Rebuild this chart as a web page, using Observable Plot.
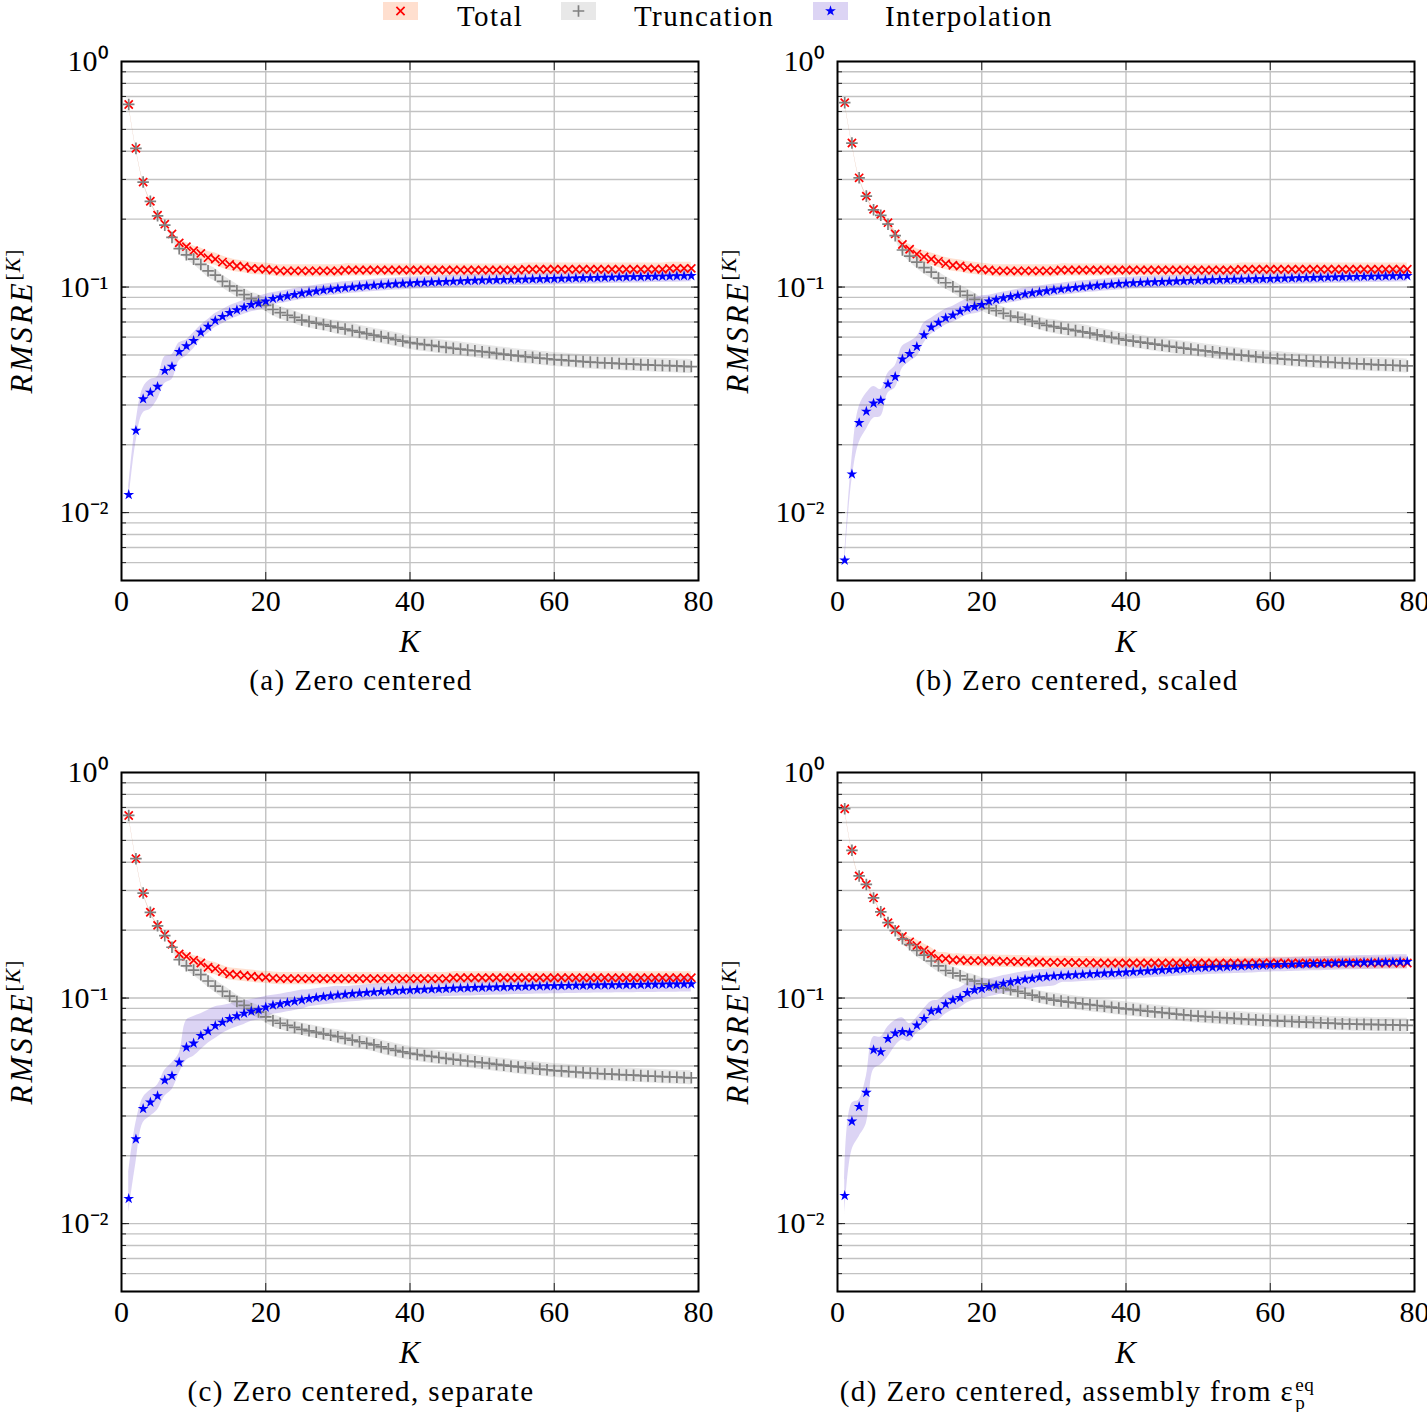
<!DOCTYPE html>
<html><head><meta charset="utf-8">
<script src="https://cdn.jsdelivr.net/npm/d3@7"></script>
<script src="https://cdn.jsdelivr.net/npm/@observablehq/plot@0.6"></script>
<style>
body{margin:0;background:#fff;overflow:hidden}
#root{position:relative;width:1427px;height:1412px;overflow:hidden;font-family:"Liberation Serif",serif;color:#000;background:#fff}
.t{position:absolute;white-space:nowrap;font-size:29px;letter-spacing:1.4px;line-height:29px}
.c{transform:translate(-50%,-50%)}
.ylab{position:absolute;white-space:nowrap;font-size:31px;letter-spacing:3px;font-style:italic;line-height:1;transform:translate(-50%,-50%) rotate(-90deg)}
.ylab sup{font-size:0.7em;font-style:normal;letter-spacing:1px}
.xlab{position:absolute;font-size:31px;font-style:italic;line-height:1;transform:translate(-50%,-50%)}
.stk{display:inline-block;vertical-align:-0.42em;font-size:0.66em;line-height:0.95;letter-spacing:0.5px;text-align:left;margin-left:1px}
.stk span{display:block}
</style></head><body><div id="root"></div>
<script>
const K = [1,2,3,4,5,6,7,8,9,10,11,12,13,14,15,16,17,18,19,20,21,22,23,24,25,26,27,28,29,30,31,32,33,34,35,36,37,38,39,40,41,42,43,44,45,46,47,48,49,50,51,52,53,54,55,56,57,58,59,60,61,62,63,64,65,66,67,68,69,70,71,72,73,74,75,76,77,78,79];
const xTicks = [0,20,40,60,80];
const xGrid = [20,40,60];
const yMajor = [1,0.1,0.01];
const yMajorLabels = ["10⁰","10⁻¹","10⁻²"];
const yGrid = [0.005,0.006,0.007,0.008,0.009,0.01,0.02,0.03,0.04,0.05,0.06,0.07,0.08,0.09,0.1,0.2,0.3,0.4,0.5,0.6,0.7,0.8,0.9,1];
const seriesNames = ["Total","Truncation","Interpolation"];
const captions = ["(a) Zero centered","(b) Zero centered, scaled","(c) Zero centered, separate","(d) Zero centered, assembly from ε"];

// ---- panel (a) ----
const totalA = [0.645,0.412,0.292,0.240,0.208,0.190,0.172,0.157,0.151,0.145,
0.141,0.135,0.133,0.129,0.126,0.124,0.123,0.121,0.1205,0.120,
0.119,0.118,0.118,0.118,0.118,0.118,0.118,0.118,0.118,0.118,
0.119,0.119,0.119,0.119,0.119,0.119,0.119,0.119,0.119,0.119,
0.119,0.119,0.119,0.119,0.119,0.119,0.119,0.119,0.119,0.119,
0.119,0.119,0.119,0.119,0.119,0.120,0.120,0.120,0.120,0.120,
0.120,0.120,0.120,0.120,0.120,0.120,0.120,0.120,0.120,0.120,
0.120,0.120,0.120,0.120,0.120,0.121,0.121,0.121,0.121];
const truncA = [0.645,0.412,0.292,0.240,0.207,0.188,0.166,0.148,0.139,0.133,
0.126,0.118,0.113,0.106,0.101,0.0964,0.0925,0.0888,0.0870,0.0830,
0.0795,0.0770,0.0750,0.0734,0.0714,0.0703,0.0692,0.0682,0.0671,0.0661,
0.0651,0.0641,0.0631,0.0621,0.0612,0.0603,0.0594,0.0585,0.0576,0.0567,
0.0561,0.0556,0.0551,0.0545,0.0540,0.0535,0.0531,0.0526,0.0522,0.0517,
0.0513,0.0508,0.0504,0.0499,0.0495,0.0491,0.0488,0.0484,0.0481,0.0477,
0.0475,0.0472,0.0470,0.0467,0.0465,0.0463,0.0461,0.0460,0.0458,0.0456,
0.0455,0.0453,0.0452,0.0450,0.0449,0.0448,0.0447,0.0445,0.0444];
const interpA = [0.0120,0.0231,0.0319,0.0341,0.0362,0.0426,0.0444,0.0516,0.0548,0.0578,
0.0630,0.0668,0.0710,0.0739,0.0769,0.0791,0.0813,0.0835,0.0847,0.0865,
0.0888,0.0900,0.0912,0.0925,0.0938,0.0948,0.0958,0.0968,0.0976,0.0984,
0.0991,0.0998,0.1005,0.1011,0.1017,0.1022,0.1027,0.1032,0.1036,0.1040,
0.1044,0.1047,0.1050,0.1053,0.1056,0.1059,0.1062,0.1065,0.1068,0.1071,
0.1073,0.1075,0.1076,0.1078,0.1080,0.1081,0.1083,0.1085,0.1086,0.1088,
0.1090,0.1092,0.1094,0.1096,0.1098,0.1099,0.1101,0.1103,0.1105,0.1107,
0.1109,0.1110,0.1112,0.1114,0.1115,0.1117,0.1119,0.1120,0.1122];
// band half-widths in decades (log10)
const interpUpA = [0.035,0.035,0.049,0.057,0.044,0.062,0.053,0.040,0.027,0.035,
0.031,0.031,0.031,0.031,0.031,0.031,0.031,0.031,0.031,0.031,
0.027,0.027,0.027,0.027,0.027,0.027,0.027,0.027,0.027,0.027,
0.027,0.027,0.027,0.027,0.027,0.027,0.027,0.027,0.027,0.027,
0.027,0.027,0.027,0.027,0.027,0.027,0.027,0.027,0.027,0.027,
0.027,0.027,0.027,0.027,0.027,0.027,0.027,0.027,0.027,0.027,
0.027,0.027,0.027,0.027,0.027,0.027,0.027,0.027,0.027,0.027,
0.027,0.027,0.027,0.027,0.027,0.027,0.027,0.027,0.027];
const interpDnA = [0.035,0.053,0.062,0.075,0.057,0.057,0.057,0.040,0.044,0.035,
0.031,0.031,0.031,0.031,0.031,0.031,0.031,0.031,0.031,0.031,
0.027,0.027,0.027,0.027,0.027,0.027,0.027,0.027,0.027,0.027,
0.027,0.027,0.027,0.027,0.027,0.027,0.027,0.027,0.027,0.027,
0.027,0.027,0.027,0.027,0.027,0.027,0.027,0.027,0.027,0.027,
0.027,0.027,0.027,0.027,0.027,0.027,0.027,0.027,0.027,0.027,
0.027,0.027,0.027,0.027,0.027,0.027,0.027,0.027,0.027,0.027,
0.027,0.027,0.027,0.027,0.027,0.027,0.027,0.027,0.027];

// shared band half-widths for Total and Truncation (decades)
const totalSpread = [0.004,0.004,0.004,0.004,0.004,0.004,0.008,0.014,0.018,0.021,
0.024,0.027,0.027,0.027,0.027,0.027,0.027,0.027,0.027,0.027,
0.027,0.027,0.027,0.027,0.027,0.027,0.027,0.027,0.027,0.027,
0.027,0.027,0.027,0.027,0.027,0.027,0.027,0.027,0.027,0.027,
0.027,0.027,0.027,0.027,0.027,0.027,0.027,0.027,0.027,0.027,
0.027,0.027,0.027,0.027,0.027,0.027,0.027,0.027,0.027,0.027,
0.027,0.027,0.027,0.027,0.027,0.027,0.027,0.027,0.027,0.027,
0.027,0.027,0.027,0.027,0.027,0.027,0.027,0.027,0.027];
const truncSpread = [0.004,0.004,0.004,0.004,0.004,0.004,0.010,0.016,0.020,0.024,
0.028,0.028,0.028,0.028,0.028,0.028,0.028,0.028,0.028,0.028,
0.028,0.028,0.028,0.028,0.028,0.028,0.028,0.028,0.028,0.031,
0.031,0.031,0.031,0.031,0.031,0.031,0.031,0.031,0.031,0.031,
0.031,0.031,0.031,0.031,0.031,0.031,0.031,0.031,0.031,0.031,
0.031,0.031,0.031,0.031,0.031,0.031,0.031,0.031,0.031,0.031,
0.031,0.031,0.031,0.031,0.031,0.031,0.031,0.031,0.031,0.031,
0.031,0.031,0.031,0.031,0.031,0.031,0.031,0.031,0.031];

// ---- panel (b) ----
const totalB = [0.657,0.435,0.305,0.253,0.221,0.210,0.193,0.172,0.1545,0.147,
0.140,0.136,0.133,0.130,0.127,0.125,0.124,0.122,0.121,0.1198,
0.119,0.118,0.118,0.118,0.118,0.118,0.118,0.118,0.118,0.118,
0.119,0.119,0.119,0.119,0.119,0.119,0.119,0.119,0.119,0.119,
0.119,0.119,0.119,0.119,0.119,0.119,0.119,0.119,0.119,0.119,
0.119,0.119,0.119,0.119,0.119,0.120,0.120,0.120,0.120,0.120,
0.120,0.120,0.120,0.120,0.120,0.120,0.120,0.120,0.120,0.120,
0.120,0.120,0.120,0.120,0.120,0.120,0.120,0.120,0.120];
const truncB = [0.657,0.435,0.305,0.253,0.220,0.208,0.190,0.169,0.146,0.137,
0.129,0.122,0.1165,0.1096,0.1045,0.1003,0.0957,0.0918,0.0882,0.0838,
0.0805,0.0785,0.0764,0.0744,0.0734,0.0719,0.0705,0.0690,0.0676,0.0668,
0.0658,0.0650,0.0641,0.0633,0.0625,0.0614,0.0606,0.0598,0.0590,0.0582,
0.0576,0.0570,0.0564,0.0558,0.0552,0.0546,0.0541,0.0536,0.0531,0.0526,
0.0521,0.0516,0.0511,0.0507,0.0503,0.0499,0.0495,0.0491,0.0488,0.0485,
0.0482,0.0479,0.0476,0.0474,0.0471,0.0469,0.0467,0.0465,0.0463,0.0461,
0.0459,0.0457,0.0456,0.0454,0.0452,0.0451,0.0450,0.0448,0.0447];
const interpB = [0.00614,0.0148,0.0250,0.0281,0.0305,0.0314,0.0371,0.0400,0.0479,0.0506,
0.0544,0.0613,0.0663,0.0696,0.0729,0.0750,0.0780,0.0807,0.0818,0.0835,
0.0865,0.0880,0.0894,0.0906,0.0918,0.0930,0.0940,0.0950,0.0960,0.0970,
0.0978,0.0986,0.0994,0.1001,0.1008,0.1015,0.1021,0.1027,0.1033,0.1038,
0.1042,0.1046,0.1049,0.1052,0.1055,0.1058,0.1061,0.1064,0.1067,0.1070,
0.1072,0.1074,0.1076,0.1078,0.1080,0.1081,0.1083,0.1085,0.1086,0.1088,
0.1090,0.1092,0.1094,0.1096,0.1098,0.1099,0.1101,0.1103,0.1105,0.1107,
0.1109,0.1110,0.1112,0.1114,0.1115,0.1117,0.1119,0.1120,0.1122];
const interpUpB = [0.022,0.066,0.071,0.080,0.075,0.049,0.049,0.049,0.057,0.053,
0.044,0.053,0.040,0.040,0.040,0.040,0.040,0.040,0.040,0.040,
0.027,0.027,0.027,0.027,0.027,0.027,0.027,0.027,0.027,0.027,
0.027,0.027,0.027,0.027,0.027,0.027,0.027,0.027,0.027,0.027,
0.027,0.027,0.027,0.027,0.027,0.027,0.027,0.027,0.027,0.027,
0.027,0.027,0.027,0.027,0.027,0.027,0.027,0.027,0.027,0.027,
0.027,0.027,0.027,0.027,0.027,0.027,0.027,0.027,0.027,0.027,
0.027,0.027,0.027,0.027,0.027,0.027,0.027,0.027,0.027];
const interpDnB = [0.022,0.027,0.088,0.080,0.066,0.071,0.040,0.049,0.040,0.035,
0.044,0.035,0.031,0.031,0.031,0.031,0.031,0.031,0.031,0.031,
0.027,0.027,0.027,0.027,0.027,0.027,0.027,0.027,0.027,0.027,
0.027,0.027,0.027,0.027,0.027,0.027,0.027,0.027,0.027,0.027,
0.027,0.027,0.027,0.027,0.027,0.027,0.027,0.027,0.027,0.027,
0.027,0.027,0.027,0.027,0.027,0.027,0.027,0.027,0.027,0.027,
0.027,0.027,0.027,0.027,0.027,0.027,0.027,0.027,0.027,0.027,
0.027,0.027,0.027,0.027,0.027,0.027,0.027,0.027,0.027];

// ---- panel (c) ----
const totalC = [0.645,0.415,0.292,0.240,0.210,0.191,0.173,0.157,0.153,0.147,
0.143,0.137,0.135,0.131,0.128,0.127,0.126,0.125,0.124,0.1235,
0.1226,0.122,0.122,0.122,0.122,0.122,0.122,0.122,0.122,0.122,
0.122,0.122,0.122,0.122,0.122,0.122,0.122,0.122,0.122,0.122,
0.122,0.122,0.122,0.122,0.122,0.123,0.123,0.123,0.123,0.123,
0.123,0.123,0.123,0.123,0.123,0.123,0.123,0.123,0.123,0.123,
0.123,0.123,0.123,0.123,0.123,0.123,0.123,0.123,0.123,0.123,
0.123,0.123,0.123,0.123,0.123,0.123,0.123,0.123,0.123];
const truncC = [0.645,0.415,0.292,0.240,0.209,0.189,0.168,0.148,0.139,0.133,
0.127,0.119,0.113,0.107,0.102,0.0966,0.0928,0.0897,0.0867,0.0826,
0.0794,0.0773,0.0757,0.0741,0.0727,0.0716,0.0705,0.0694,0.0684,0.0674,
0.0662,0.0651,0.0640,0.0630,0.0620,0.0607,0.0596,0.0586,0.0577,0.0569,
0.0562,0.0556,0.0551,0.0545,0.0540,0.0535,0.0531,0.0526,0.0522,0.0517,
0.0513,0.0508,0.0504,0.0499,0.0495,0.0491,0.0488,0.0484,0.0481,0.0477,
0.0475,0.0472,0.0470,0.0467,0.0465,0.0463,0.0461,0.0460,0.0458,0.0456,
0.0455,0.0453,0.0451,0.0450,0.0448,0.0447,0.0446,0.0444,0.0443];
const interpC = [0.0129,0.0237,0.0323,0.0345,0.0368,0.0432,0.0452,0.0519,0.0605,0.0630,
0.0681,0.0713,0.0754,0.0780,0.0809,0.0832,0.0855,0.0873,0.0885,0.0910,
0.0929,0.0940,0.0953,0.0966,0.0980,0.0993,0.1003,0.1012,0.1021,0.1030,
0.1037,0.1044,0.1050,0.1056,0.1062,0.1067,0.1072,0.1076,0.1080,0.1084,
0.1088,0.1091,0.1094,0.1097,0.1100,0.1103,0.1106,0.1108,0.1111,0.1113,
0.1115,0.1117,0.1119,0.1121,0.1123,0.1125,0.1127,0.1129,0.1130,0.1132,
0.1133,0.1135,0.1136,0.1137,0.1139,0.1140,0.1141,0.1142,0.1143,0.1144,
0.1145,0.1146,0.1147,0.1148,0.1149,0.1150,0.1151,0.1152,0.1153];
const interpUpC = [0.115,0.071,0.049,0.053,0.049,0.044,0.057,0.040,0.119,0.119,
0.097,0.093,0.084,0.075,0.066,0.062,0.057,0.053,0.053,0.049,
0.044,0.044,0.044,0.044,0.044,0.040,0.040,0.040,0.040,0.040,
0.035,0.035,0.035,0.035,0.035,0.035,0.035,0.035,0.035,0.035,
0.035,0.035,0.035,0.035,0.035,0.035,0.035,0.035,0.035,0.035,
0.035,0.035,0.035,0.035,0.035,0.035,0.035,0.035,0.035,0.035,
0.035,0.035,0.035,0.035,0.035,0.035,0.035,0.035,0.035,0.035,
0.035,0.035,0.035,0.035,0.035,0.035,0.035,0.035,0.035];
const interpDnC = [0.062,0.106,0.062,0.062,0.062,0.071,0.062,0.049,0.057,0.057,
0.062,0.053,0.057,0.049,0.049,0.049,0.049,0.044,0.044,0.049,
0.040,0.040,0.040,0.040,0.040,0.035,0.035,0.035,0.035,0.035,
0.035,0.035,0.035,0.035,0.035,0.035,0.035,0.035,0.035,0.035,
0.035,0.035,0.035,0.035,0.035,0.035,0.035,0.035,0.035,0.035,
0.035,0.035,0.035,0.035,0.035,0.035,0.035,0.035,0.035,0.035,
0.035,0.035,0.035,0.035,0.035,0.035,0.035,0.035,0.035,0.035,
0.035,0.035,0.035,0.035,0.035,0.035,0.035,0.035,0.035];

// ---- panel (d) ----
const totalD = [0.691,0.452,0.348,0.319,0.278,0.241,0.216,0.201,0.1875,0.1775,
0.171,0.163,0.157,0.150,0.1495,0.1475,0.1475,0.1465,0.1465,0.1465,
0.146,0.146,0.1455,0.1455,0.145,0.145,0.1445,0.1445,0.144,0.144,
0.144,0.144,0.1435,0.1435,0.1435,0.143,0.143,0.143,0.143,0.143,
0.143,0.143,0.143,0.143,0.143,0.143,0.143,0.143,0.143,0.143,
0.143,0.143,0.143,0.143,0.143,0.143,0.143,0.143,0.143,0.143,
0.143,0.143,0.143,0.143,0.143,0.143,0.143,0.143,0.143,0.143,
0.143,0.143,0.143,0.143,0.143,0.143,0.143,0.143,0.143];
const truncD = [0.691,0.452,0.348,0.319,0.278,0.241,0.216,0.199,0.183,0.1725,
0.1625,0.155,0.146,0.139,0.1325,0.129,0.1255,0.121,0.119,0.1157,
0.114,0.112,0.1105,0.1088,0.107,0.105,0.103,0.101,0.0995,0.098,
0.0970,0.0960,0.0951,0.0943,0.0935,0.0927,0.0919,0.0911,0.0903,0.0896,
0.0889,0.0882,0.0875,0.0868,0.0862,0.0856,0.0849,0.0843,0.0837,0.0832,
0.0828,0.0824,0.0820,0.0816,0.0813,0.0809,0.0805,0.0802,0.0798,0.0795,
0.0792,0.0789,0.0787,0.0784,0.0782,0.0779,0.0777,0.0774,0.0772,0.0769,
0.0768,0.0766,0.0765,0.0764,0.0762,0.0761,0.0760,0.0758,0.0757];
const interpD = [0.0133,0.0284,0.0330,0.0381,0.0589,0.0577,0.0660,0.0698,0.0708,0.0703,
0.0757,0.0810,0.0873,0.0885,0.0940,0.0980,0.1003,0.1055,0.1085,0.1100,
0.1122,0.1138,0.1161,0.1177,0.1193,0.1210,0.1220,0.1235,0.1242,0.1250,
0.1256,0.1261,0.1266,0.1272,0.1277,0.1282,0.1287,0.1291,0.1296,0.1300,
0.1306,0.1312,0.1318,0.1324,0.1330,0.1336,0.1342,0.1348,0.1354,0.1360,
0.1364,0.1368,0.1372,0.1376,0.1380,0.1384,0.1388,0.1392,0.1396,0.1400,
0.1403,0.1406,0.1409,0.1412,0.1415,0.1418,0.1421,0.1424,0.1427,0.1430,
0.1432,0.1434,0.1437,0.1439,0.1441,0.1443,0.1446,0.1448,0.1450];
const interpUpD = [0.071,0.080,0.031,0.071,0.057,0.066,0.053,0.057,0.062,0.040,
0.035,0.044,0.044,0.044,0.044,0.044,0.044,0.044,0.044,0.044,
0.035,0.035,0.035,0.035,0.035,0.035,0.035,0.035,0.035,0.035,
0.031,0.031,0.031,0.031,0.031,0.031,0.031,0.031,0.031,0.031,
0.031,0.031,0.031,0.031,0.031,0.031,0.031,0.031,0.031,0.031,
0.031,0.031,0.031,0.031,0.031,0.031,0.031,0.031,0.031,0.031,
0.031,0.031,0.031,0.031,0.031,0.031,0.031,0.031,0.031,0.031,
0.031,0.031,0.031,0.031,0.031,0.031,0.031,0.031,0.031];
const interpDnD = [0.084,0.128,0.133,0.137,0.088,0.057,0.080,0.057,0.035,0.040,
0.035,0.044,0.044,0.044,0.044,0.044,0.044,0.044,0.044,0.044,
0.044,0.044,0.044,0.044,0.044,0.044,0.044,0.044,0.044,0.044,
0.031,0.031,0.031,0.031,0.031,0.031,0.031,0.031,0.031,0.031,
0.031,0.031,0.031,0.031,0.031,0.031,0.031,0.031,0.031,0.031,
0.031,0.031,0.031,0.031,0.031,0.031,0.031,0.031,0.031,0.031,
0.031,0.031,0.031,0.031,0.031,0.031,0.031,0.031,0.031,0.031,
0.031,0.031,0.031,0.031,0.031,0.031,0.031,0.031,0.031];

// ---------- drawing ----------
const root = document.getElementById("root");
const FONT = "Liberation Serif, serif";
const COL = {
  totFill: "#ff7f3f", truFill: "#a4a4a4", itpFill: "#7454d4",
  tot: "#ff0000", tru: "#808080", itp: "#0000ff"
};
const R_TIMES = 3.8, R_PLUS = 3.8, R_STAR = 3.4;

const panels = [
  {tot: totalA, tru: truncA, itp: interpA, up: interpUpA, dn: interpDnA, left: 0, top: 30},
  {tot: totalB, tru: truncB, itp: interpB, up: interpUpB, dn: interpDnB, left: 716, top: 30},
  {tot: totalC, tru: truncC, itp: interpC, up: interpUpC, dn: interpDnC, left: 0, top: 741},
  {tot: totalD, tru: truncD, itp: interpD, up: interpUpD, dn: interpDnD, left: 716, top: 741}
];

panels.forEach((p, pi) => {
  const rows = K.map((k, i) => ({
    k,
    tot: p.tot[i], totLo: p.tot[i] / 10 ** totalSpread[i], totHi: p.tot[i] * 10 ** totalSpread[i],
    tru: p.tru[i], truLo: p.tru[i] / 10 ** truncSpread[i], truHi: p.tru[i] * 10 ** truncSpread[i],
    itp: p.itp[i], itpLo: p.itp[i] / 10 ** p.dn[i], itpHi: p.itp[i] * 10 ** p.up[i]
  }));
  const blank = () => "";
  const svg = Plot.plot({
    width: 716, height: 620,
    marginLeft: 121, marginRight: 18, marginTop: 31, marginBottom: 70,
    x: {domain: [0, 80], label: null},
    y: {type: "log", domain: [0.005, 1], label: null},
    style: {fontFamily: FONT, fontSize: "30px", background: "transparent", overflow: "visible", color: "#000"},
    marks: [
      Plot.ruleY(yGrid, {stroke: "#c2c2c2", strokeWidth: 1.4}),
      Plot.ruleX(xGrid, {stroke: "#c2c2c2", strokeWidth: 1.4}),
      Plot.areaY(rows, {x: "k", y1: "totLo", y2: "totHi", fill: COL.totFill, fillOpacity: 0.25, curve: "catmull-rom"}),
      Plot.areaY(rows, {x: "k", y1: "truLo", y2: "truHi", fill: COL.truFill, fillOpacity: 0.25, curve: "catmull-rom"}),
      Plot.areaY(rows, {x: "k", y1: "itpLo", y2: "itpHi", fill: COL.itpFill, fillOpacity: 0.25, curve: "catmull-rom"}),
      Plot.dot(rows, {x: "k", y: "tot", symbol: "times", stroke: COL.tot, r: R_TIMES, strokeWidth: 1.7}),
      Plot.dot(rows, {x: "k", y: "tru", symbol: "plus", stroke: COL.tru, r: R_PLUS, strokeWidth: 1.7}),
      Plot.dot(rows, {x: "k", y: "itp", symbol: "star", fill: COL.itp, stroke: "none", r: R_STAR}),
      Plot.axisY({ticks: yGrid, anchor: "left", tickSize: -5, tickFormat: blank, label: null, stroke: "#222", strokeWidth: 1}),
      Plot.axisY({ticks: yGrid, anchor: "right", tickSize: -5, tickFormat: blank, label: null, stroke: "#222", strokeWidth: 1}),
      Plot.axisY({ticks: yMajor, anchor: "left", tickSize: -8, tickFormat: blank, label: null, stroke: "#222", strokeWidth: 1}),
      Plot.axisY({ticks: yMajor, anchor: "right", tickSize: -8, tickFormat: blank, label: null, stroke: "#222", strokeWidth: 1}),
      Plot.axisY({ticks: yMajor, anchor: "left", tickSize: 0, tickPadding: 13, label: null,
        tickFormat: v => yMajorLabels[yMajor.indexOf(v)], fill: "#000"}),
      Plot.axisX({ticks: xTicks, anchor: "bottom", tickSize: -8, tickFormat: blank, label: null, stroke: "#222", strokeWidth: 1}),
      Plot.axisX({ticks: xTicks, anchor: "top", tickSize: -8, tickFormat: blank, label: null, stroke: "#222", strokeWidth: 1}),
      Plot.axisX({ticks: xTicks, anchor: "bottom", tickSize: 0, tickPadding: 9, label: null, tickFormat: d => String(d), fill: "#000"}),
      Plot.frame({stroke: "#000", strokeWidth: 2})
    ]
  });
  svg.style.position = "absolute";
  svg.style.left = p.left + "px";
  svg.style.top = p.top + "px";
  root.appendChild(svg);

  // axis titles
  const xl = document.createElement("div");
  xl.className = "xlab";
  xl.style.left = (p.left + 409.5) + "px";
  xl.style.top = (p.top + 611) + "px";
  xl.textContent = "K";
  root.appendChild(xl);

  const yl = document.createElement("div");
  yl.className = "ylab";
  yl.style.left = (p.left + 20) + "px";
  yl.style.top = (p.top + 291) + "px";
  yl.innerHTML = "RMSRE<sup>[<i>K</i>]</sup>";
  root.appendChild(yl);

  const cap = document.createElement("div");
  cap.className = "t c";
  cap.style.left = (p.left + 361) + "px";
  cap.style.top = (p.top + (pi === 3 ? 653 : 650)) + "px";
  cap.textContent = captions[pi];
  if (pi === 3) {
    const s = document.createElement("span");
    s.className = "stk";
    s.innerHTML = "<span>eq</span><span>p</span>";
    cap.appendChild(s);
  }
  root.appendChild(cap);
});

// ---------- legend ----------
const legendItems = [
  {name: seriesNames[0], sx: 383, tx: 457, fill: COL.totFill, symbol: d3.symbolTimes, r: R_TIMES, stroke: COL.tot},
  {name: seriesNames[1], sx: 561, tx: 634, fill: COL.truFill, symbol: d3.symbolPlus, r: R_PLUS, stroke: COL.tru},
  {name: seriesNames[2], sx: 813, tx: 885, fill: COL.itpFill, symbol: d3.symbolStar, r: R_STAR, stroke: null, dot: COL.itp}
];
legendItems.forEach(it => {
  const ns = "http://www.w3.org/2000/svg";
  const s = document.createElementNS(ns, "svg");
  s.setAttribute("width", 35); s.setAttribute("height", 18);
  s.style.position = "absolute"; s.style.left = it.sx + "px"; s.style.top = "2px";
  const r = document.createElementNS(ns, "rect");
  r.setAttribute("width", 35); r.setAttribute("height", 18);
  r.setAttribute("fill", it.fill); r.setAttribute("fill-opacity", 0.25);
  s.appendChild(r);
  const path = document.createElementNS(ns, "path");
  path.setAttribute("d", d3.symbol(it.symbol, Math.PI * it.r * it.r)());
  path.setAttribute("transform", "translate(17.5,9)");
  if (it.stroke) { path.setAttribute("fill", "none"); path.setAttribute("stroke", it.stroke); path.setAttribute("stroke-width", 1.7); }
  else { path.setAttribute("fill", it.dot); }
  s.appendChild(path);
  root.appendChild(s);
  const t = document.createElement("div");
  t.className = "t";
  t.style.left = it.tx + "px";
  t.style.top = "2px";
  t.textContent = it.name;
  root.appendChild(t);
});
</script>
</body></html>
